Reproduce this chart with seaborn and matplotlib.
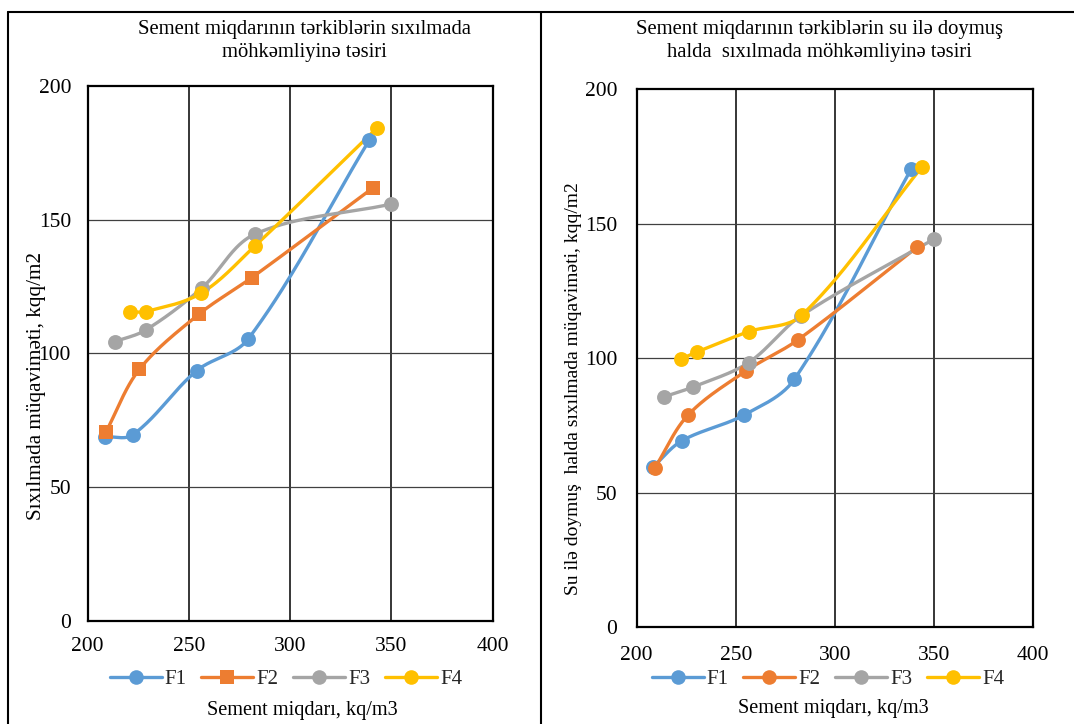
import numpy as np
import pandas as pd
import matplotlib
matplotlib.use("Agg")
import matplotlib.pyplot as plt
import seaborn as sns
from matplotlib.lines import Line2D

# ---------------- data ----------------
series = ["F1", "F2", "F3", "F4"]

# Left chart: compressive strength
left_x = {
    "F1": [208.5, 222.2, 253.8, 279.3, 339.1],
    "F2": [209.0, 225.5, 255.0, 281.0, 340.7],
    "F3": [213.5, 228.6, 256.3, 282.6, 349.6],
    "F4": [220.9, 228.6, 256.0, 282.6, 342.7],
}
left_y = {
    "F1": [68.8, 69.5, 93.5, 105.4, 179.8],
    "F2": [70.6, 94.0, 114.7, 128.3, 161.8],
    "F3": [104.4, 108.7, 124.4, 144.6, 155.8],
    "F4": [115.6, 115.6, 122.5, 140.2, 184.2],
}

# Right chart: water-saturated compressive strength
right_x = {
    "F1": [208.4, 222.7, 254.1, 279.5, 338.3],
    "F2": [209.2, 225.9, 255.1, 281.2, 341.2],
    "F3": [213.8, 228.6, 256.4, 282.9, 349.9],
    "F4": [222.4, 230.5, 256.4, 283.2, 343.7],
}
right_y = {
    "F1": [59.7, 69.3, 78.9, 92.2, 170.2],
    "F2": [59.3, 78.9, 95.3, 106.8, 141.2],
    "F3": [85.7, 89.4, 98.4, 115.8, 144.3],
    "F4": [99.8, 102.4, 109.9, 116.0, 171.0],
}

x_ticks = [200, 250, 300, 350, 400]
y_ticks = [0, 50, 100, 150, 200]

title_left = "Sement miqdarının tərkiblərin sıxılmada\nmöhkəmliyinə təsiri"
title_right = "Sement miqdarının tərkiblərin su ilə doymuş\nhalda  sıxılmada möhkəmliyinə təsiri"
xlabel = "Sement miqdarı, kq/m3"
ylabel_left = "Sıxılmada müqaviməti, kqq/m2"
ylabel_right = "Su ilə doymuş  halda sıxılmada müqaviməti, kqq/m2"

colors = {"F1": "#5B9BD5", "F2": "#ED7D31", "F3": "#A5A5A5", "F4": "#FFC000"}

# ---------------- style ----------------
sns.set_theme(style="white")
plt.rcParams["font.family"] = ["Liberation Serif", "DejaVu Serif"]

YS = 1.32  # aspect of the plotting area (px per unit y / px per unit x)


def smooth(xs, ys, n=40):
    """Chord-scaled Bezier smoothing, similar to a spreadsheet 'smoothed line'."""
    P = np.column_stack([xs, np.asarray(ys) * YS]).astype(float)
    m = len(P)
    tang = []
    for i in range(m):
        a = P[max(i - 1, 0)]
        b = P[min(i + 1, m - 1)]
        d = b - a
        tang.append(d / (np.linalg.norm(d) + 1e-12))
    out = []
    t = np.linspace(0, 1, n)[:, None]
    for i in range(m - 1):
        p1, p2 = P[i], P[i + 1]
        L = np.linalg.norm(p2 - p1)
        b0 = p1
        b1 = p1 + tang[i] * L / 3.0
        b2 = p2 - tang[i + 1] * L / 3.0
        b3 = p2
        seg = ((1 - t) ** 3) * b0 + 3 * ((1 - t) ** 2) * t * b1 + 3 * (1 - t) * t ** 2 * b2 + t ** 3 * b3
        out.append(seg if i == 0 else seg[1:])
    c = np.vstack(out)
    return c[:, 0], c[:, 1] / YS


W, H = 1074, 724
fig = plt.figure(figsize=(W / 100, H / 100), dpi=100)

ax_l = fig.add_axes([87.7 / W, 1 - 620.7 / H, 405 / W, 534.7 / H])
ax_r = fig.add_axes([636.7 / W, 1 - 627.3 / H, 396.6 / W, 538 / H])


def draw(ax, xd, yd, markers, pad_x, pad_y):
    for s in series:
        cx, cy = smooth(xd[s], yd[s])
        ax.plot(cx, cy, color=colors[s], lw=2.4, solid_capstyle="round", zorder=3)
        df = pd.DataFrame({"x": xd[s], "y": yd[s]})
        sns.scatterplot(data=df, x="x", y="y", ax=ax, color=colors[s],
                        marker=markers[s], s=115 if markers[s] == "o" else 100,
                        edgecolor=colors[s], linewidth=0, zorder=4, legend=False)
    ax.set_xlim(200, 400)
    ax.set_ylim(0, 200)
    ax.set_xticks(x_ticks)
    ax.set_yticks(y_ticks)
    ax.set_xlabel("")
    ax.set_ylabel("")
    for v in [250, 300, 350]:
        ax.axvline(v, color="black", lw=1.1, zorder=1)
    for v in [50, 100, 150]:
        ax.axhline(v, color="#404040", lw=0.9, zorder=1)
    for sp in ax.spines.values():
        sp.set_color("black")
        sp.set_linewidth(1.6)
        sp.set_visible(True)
    ax.tick_params(axis="x", length=0, pad=pad_x, labelsize=15.5, colors="black")
    ax.tick_params(axis="y", length=0, pad=pad_y, labelsize=15.5, colors="black")
    handles = [Line2D([0], [0], color=colors[s], lw=2.4, marker=markers[s],
                      markersize=10.5 if markers[s] == "o" else 10, markeredgewidth=0)
               for s in series]
    return handles


h_l = draw(ax_l, left_x, left_y, {"F1": "o", "F2": "s", "F3": "o", "F4": "o"}, 12, 12)
h_r = draw(ax_r, right_x, right_y, {"F1": "o", "F2": "o", "F3": "o", "F4": "o"}, 13.5, 14)

fig.legend(h_l, series, loc="center", bbox_to_anchor=(286 / W, 1 - 679 / H), ncol=4,
           frameon=False, fontsize=15, handlelength=2.5, handletextpad=0.15,
           columnspacing=0.7, borderaxespad=0)
fig.legend(h_r, series, loc="center", bbox_to_anchor=(828 / W, 1 - 679 / H), ncol=4,
           frameon=False, fontsize=15, handlelength=2.5, handletextpad=0.15,
           columnspacing=0.7, borderaxespad=0)

# titles
fig.text(304 / W, 1 - 41 / H, title_left, ha="center", va="center", fontsize=14.9,
         linespacing=1.32, color="black")
fig.text(819 / W, 1 - 41 / H, title_right, ha="center", va="center", fontsize=14.9,
         linespacing=1.32, color="black")

# axis labels
fig.text(302 / W, 1 - 710 / H, xlabel, ha="center", va="center", fontsize=14.6, color="black")
fig.text(833 / W, 1 - 709 / H, xlabel, ha="center", va="center", fontsize=14.6, color="black")
fig.text(37 / W, 1 - 386 / H, ylabel_left, ha="center", va="center", rotation=90,
         fontsize=15.2, color="black")
fig.text(573 / W, 1 - 389 / H, ylabel_right, ha="center", va="center", rotation=90,
         fontsize=14, color="black")

# panel borders
border = dict(color="black", lw=1.5, transform=fig.transFigure, clip_on=False)
fig.add_artist(Line2D([8 / W, 1], [1 - 12 / H, 1 - 12 / H], **border))
fig.add_artist(Line2D([8 / W, 8 / W], [0, 1 - 12 / H], **border))
fig.add_artist(Line2D([541 / W, 541 / W], [0, 1 - 12 / H], **border))

fig.savefig("out.png", dpi=100, facecolor="white")
